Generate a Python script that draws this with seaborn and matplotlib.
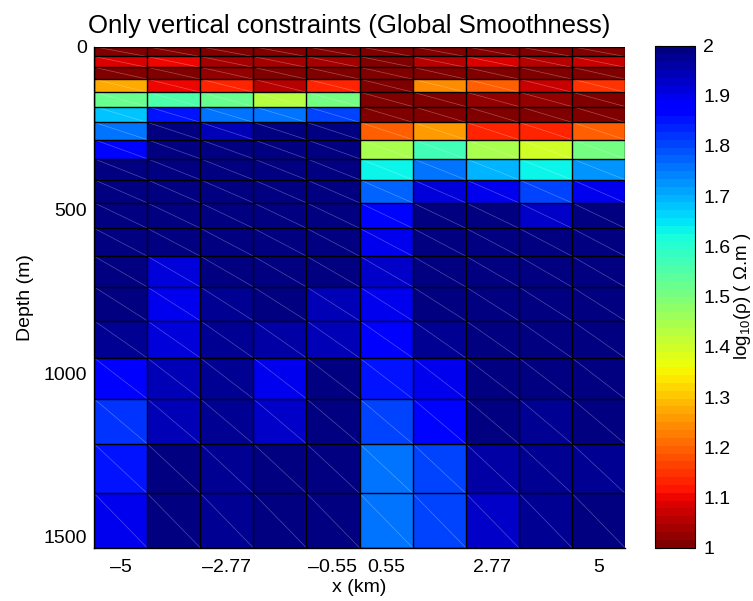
import numpy as np
import pandas as pd
import matplotlib
matplotlib.use("Agg")
import matplotlib.pyplot as plt
import seaborn as sns
from matplotlib.collections import LineCollection

# Horizontal cell centres (km)
x_centers = [-5.0, -3.889, -2.778, -1.667, -0.556, 0.556, 1.667, 2.778, 3.889, 5.0]

# Layer boundaries (m), thickening with depth
depth_edges = [0, 30, 63, 99.3, 139.2, 183.2, 231.5, 284.6, 343.1, 407.4,
               478.1, 555.9, 641.5, 735.7, 839.3, 953.2, 1078.5, 1216.3,
               1368.0, 1534.8]

# log10 resistivity for each layer (rows) and column
log_rho = [
    [1.01, 1.01, 1.01, 1.00, 1.01, 1.00, 1.01, 1.00, 1.01, 1.00],
    [1.09, 1.10, 1.04, 1.04, 1.04, 1.01, 1.06, 1.09, 1.06, 1.07],
    [1.01, 1.01, 1.02, 1.01, 1.01, 1.01, 1.01, 1.00, 1.01, 1.01],
    [1.28, 1.10, 1.125, 1.05, 1.13, 1.01, 1.245, 1.19, 1.07, 1.15],
    [1.525, 1.55, 1.52, 1.425, 1.51, 1.01, 1.01, 1.02, 1.03, 1.00],
    [1.675, 1.85, 1.76, 1.75, 1.80, 1.00, 1.00, 1.00, 1.00, 1.00],
    [1.76, 1.99, 1.94, 1.99, 1.99, 1.19, 1.26, 1.125, 1.125, 1.19],
    [1.87, 1.99, 1.99, 1.99, 1.99, 1.45, 1.575, 1.44, 1.405, 1.50],
    [1.99, 1.99, 1.99, 1.99, 1.99, 1.64, 1.75, 1.70, 1.64, 1.725],
    [1.99, 1.99, 1.99, 1.99, 1.99, 1.775, 1.91, 1.90, 1.80, 1.90],
    [1.99, 1.99, 1.99, 1.99, 1.99, 1.86, 1.99, 1.99, 1.93, 1.99],
    [1.99, 1.99, 1.99, 1.99, 1.99, 1.905, 1.99, 1.99, 1.99, 1.99],
    [1.99, 1.91, 1.99, 1.99, 1.99, 1.925, 1.99, 1.99, 1.99, 1.99],
    [1.99, 1.905, 1.98, 2.00, 1.94, 1.905, 1.99, 1.99, 1.99, 1.99],
    [1.975, 1.91, 1.975, 1.96, 1.94, 1.875, 1.98, 1.99, 1.99, 1.99],
    [1.89, 1.94, 1.975, 1.905, 1.99, 1.85, 1.905, 1.99, 1.99, 1.99],
    [1.825, 1.94, 1.975, 1.925, 1.99, 1.80, 1.86, 1.99, 1.98, 1.99],
    [1.85, 1.99, 1.975, 1.99, 1.99, 1.75, 1.80, 1.96, 1.98, 1.98],
    [1.895, 1.99, 1.98, 1.99, 1.99, 1.76, 1.81, 1.925, 1.975, 1.99],
]

x_tick_idx = [0, 2, 4, 5, 7, 9]
x_tick_labels = ["\u20135", "\u20132.77", "\u20130.55", "0.55", "2.77", "5"]
y_ticks = [0, 500, 1000, 1500]
cbar_ticks = [1.0, 1.1, 1.2, 1.3, 1.4, 1.5, 1.6, 1.7, 1.8, 1.9, 2.0]
cbar_tick_labels = ["1", "1.1", "1.2", "1.3", "1.4", "1.5", "1.6", "1.7", "1.8", "1.9", "2"]

sns.set_theme(style="white")
plt.rcParams["font.family"] = ["Liberation Sans", "DejaVu Sans"]
plt.rcParams["mathtext.fontset"] = "custom"
plt.rcParams["mathtext.rm"] = "Liberation Sans"
plt.rcParams["mathtext.it"] = "Liberation Sans:italic"

# Cell edges in x from the centres
xc = np.asarray(x_centers)
dx = np.diff(xc)
x_edges = np.concatenate([[xc[0] - dx[0] / 2], (xc[:-1] + xc[1:]) / 2, [xc[-1] + dx[-1] / 2]])
d_edges = np.asarray(depth_edges)
d_mid = (d_edges[:-1] + d_edges[1:]) / 2

records = []
for i, row in enumerate(log_rho):
    for j, val in enumerate(row):
        records.append({"x": x_centers[j], "depth": d_mid[i], "log_rho": val})
df = pd.DataFrame(records)

W, H = 753, 601
fig = plt.figure(figsize=(W / 100, H / 100), dpi=100)
ax = fig.add_axes([94 / W, 1 - 547.7 / H, (625 - 94) / W, (547.7 - 46.7) / H])
cax = fig.add_axes([655 / W, 1 - 547.7 / H, 40 / W, (547.7 - 45.5) / H])

cmap = plt.get_cmap("jet_r", 64)

sns.histplot(
    data=df, x="x", y="depth", weights="log_rho",
    bins=[x_edges, d_edges], cmap=cmap, vmin=1, vmax=2,
    cbar=True, cbar_ax=cax, cbar_kws=dict(ticks=cbar_ticks),
    edgecolor="none", linewidth=0, ax=ax,
)
mesh = ax.collections[0]
mesh.set_clim(1, 2)

# Faint cell diagonals
segs = []
for i in range(len(d_edges) - 1):
    for j in range(len(x_edges) - 1):
        segs.append([(x_edges[j], d_edges[i]), (x_edges[j + 1], d_edges[i + 1])])
ax.add_collection(LineCollection(segs, colors="white", linewidths=0.5, alpha=0.3, zorder=3))

# Thin black cell borders
ax.vlines(x_edges, d_edges[0], d_edges[-1], colors="black", linewidth=1.0, zorder=4)
ax.hlines(d_edges, x_edges[0], x_edges[-1], colors="black", linewidth=1.0, zorder=4)

ax.set_xlim(x_edges[0], x_edges[-1])
ax.set_ylim(d_edges[-1], d_edges[0])
ax.set_xticks([x_centers[k] for k in x_tick_idx])
ax.set_xticklabels(x_tick_labels)
ax.set_yticks(y_ticks)
ax.tick_params(axis="both", length=0, labelsize=14, colors="black")
ax.tick_params(axis="x", pad=8)
ax.tick_params(axis="y", pad=5)
ax.set_xlabel("x (km)", fontsize=14, labelpad=2, color="black")
ax.set_ylabel("Depth (m)", fontsize=14, labelpad=7, color="black")
ax.set_title("Only vertical constraints (Global Smoothness)", fontsize=18.5, pad=10,
             color="black", x=0.48)
for side in ["left", "bottom"]:
    ax.spines[side].set_color("black")
    ax.spines[side].set_linewidth(1.0)
for side in ["top", "right"]:
    ax.spines[side].set_visible(False)
ax.grid(False)

cax.tick_params(axis="y", direction="in", left=True, right=True, length=4,
                width=0.8, labelsize=14, colors="black", pad=6)
cax.set_yticklabels(cbar_tick_labels)
cax.set_ylabel("log$_{10}$(\u03c1) ( \u03a9.m )", fontsize=13.5, labelpad=1, color="black")
cax.yaxis.set_label_position("right")
for s in cax.spines.values():
    s.set_color("black")
    s.set_linewidth(0.8)

fig.savefig("out.png", dpi=100)
